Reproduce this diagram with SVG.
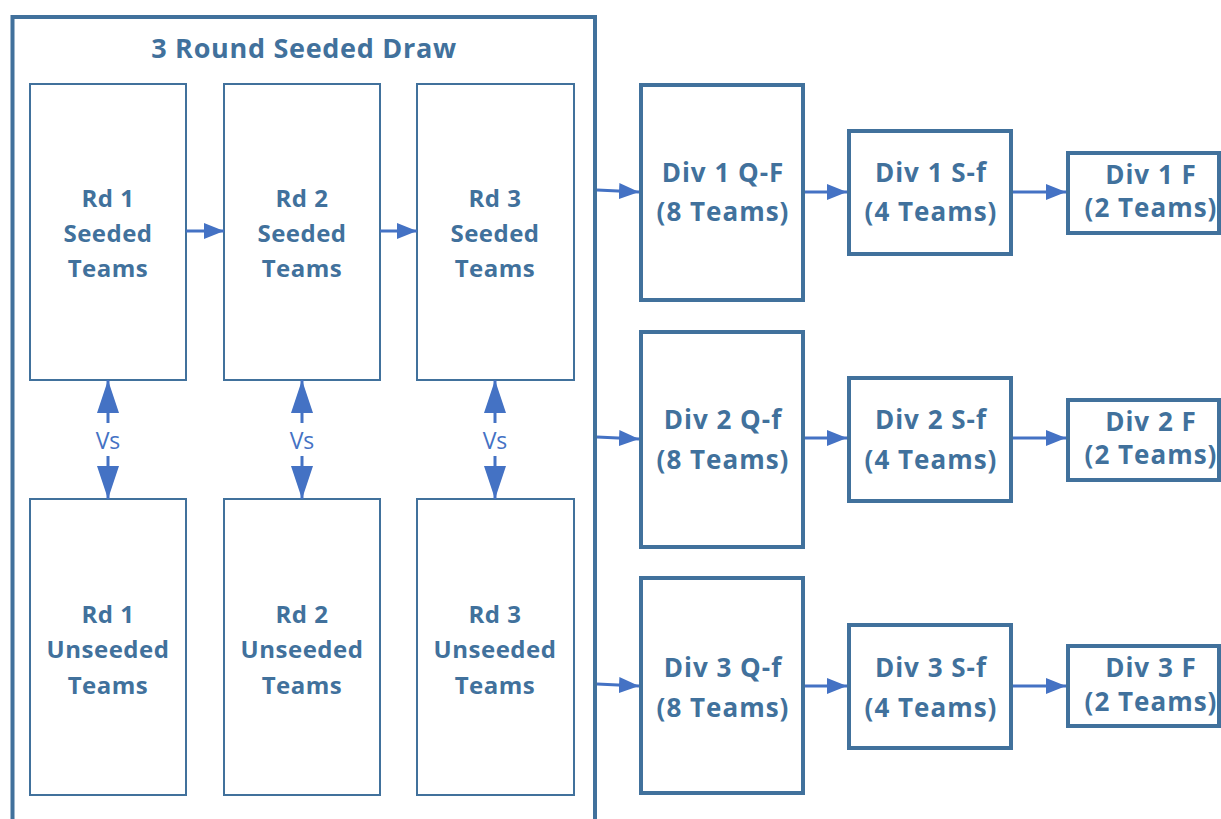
<svg xmlns="http://www.w3.org/2000/svg" width="1221" height="819" viewBox="0 0 1221 819">
<style>
.box{fill:#fff;stroke:#41719C;stroke-width:2}
.dbox{fill:#fff;stroke:#41719C;stroke-width:4}
.t{font-family:"Open Sans","Liberation Sans",sans-serif;font-weight:bold;font-size:24px;letter-spacing:0.5px;fill:#41719C;text-anchor:middle}
.d{font-size:26px;letter-spacing:1px}
.title{font-size:27px;letter-spacing:0.7px}
.vs{font-family:"Open Sans","Liberation Sans",sans-serif;font-size:23px;fill:#4472C4;text-anchor:middle}
.c{stroke:#4472C4;stroke-width:3;fill:none}
</style>
<defs>
<marker id="ah" markerUnits="userSpaceOnUse" markerWidth="22" markerHeight="16" refX="20" refY="8" orient="auto"><path d="M0,0 L20,8 L0,16 Z" fill="#4472C4"/></marker>
<marker id="av" markerUnits="userSpaceOnUse" markerWidth="34" markerHeight="24" refX="33" refY="11" orient="auto"><path d="M0,0 L33,11 L0,22 Z" fill="#4472C4"/></marker>
</defs>
<g id="draw">
<rect x="12.5" y="17" width="582.5" height="820" fill="none" stroke="#41719C" stroke-width="4"/>
<text class="t title" x="304" y="58">3 Round Seeded Draw</text>
</g>
<g id="rd1s"><rect class="box" x="30" y="84" width="156" height="296"/><text class="t" x="108" y="207">Rd 1</text><text class="t" x="108" y="242">Seeded</text><text class="t" x="108" y="277">Teams</text></g>
<g id="rd2s"><rect class="box" x="224" y="84" width="156" height="296"/><text class="t" x="302" y="207">Rd 2</text><text class="t" x="302" y="242">Seeded</text><text class="t" x="302" y="277">Teams</text></g>
<g id="rd3s"><rect class="box" x="417" y="84" width="157" height="296"/><text class="t" x="495" y="207">Rd 3</text><text class="t" x="495" y="242">Seeded</text><text class="t" x="495" y="277">Teams</text></g>
<g id="rd1u"><rect class="box" x="30" y="499" width="156" height="296"/><text class="t" x="108" y="623">Rd 1</text><text class="t" x="108" y="658">Unseeded</text><text class="t" x="108" y="694">Teams</text></g>
<g id="rd2u"><rect class="box" x="224" y="499" width="156" height="296"/><text class="t" x="302" y="623">Rd 2</text><text class="t" x="302" y="658">Unseeded</text><text class="t" x="302" y="694">Teams</text></g>
<g id="rd3u"><rect class="box" x="417" y="499" width="157" height="296"/><text class="t" x="495" y="623">Rd 3</text><text class="t" x="495" y="658">Unseeded</text><text class="t" x="495" y="694">Teams</text></g>
<g id="d1qf"><rect class="dbox" x="641" y="85" width="162" height="215"/><text class="t d" x="723" y="182">Div 1 Q-F</text><text class="t d" x="723" y="221">(8 Teams)</text></g>
<g id="d1sf"><rect class="dbox" x="849" y="131" width="162" height="123"/><text class="t d" x="931" y="182">Div 1 S-f</text><text class="t d" x="931" y="221">(4 Teams)</text></g>
<g id="d1f"><rect class="dbox" x="1068" y="153" width="151" height="80"/><text class="t d" x="1151" y="184">Div 1 F</text><text class="t d" x="1151" y="217">(2 Teams)</text></g>
<g id="d2qf"><rect class="dbox" x="641" y="332" width="162" height="215"/><text class="t d" x="723" y="429">Div 2 Q-f</text><text class="t d" x="723" y="469">(8 Teams)</text></g>
<g id="d2sf"><rect class="dbox" x="849" y="378" width="162" height="123"/><text class="t d" x="931" y="429">Div 2 S-f</text><text class="t d" x="931" y="469">(4 Teams)</text></g>
<g id="d2f"><rect class="dbox" x="1068" y="400" width="151" height="80"/><text class="t d" x="1151" y="431">Div 2 F</text><text class="t d" x="1151" y="464">(2 Teams)</text></g>
<g id="d3qf"><rect class="dbox" x="641" y="578" width="162" height="215"/><text class="t d" x="723" y="677">Div 3 Q-f</text><text class="t d" x="723" y="717">(8 Teams)</text></g>
<g id="d3sf"><rect class="dbox" x="849" y="625" width="162" height="123"/><text class="t d" x="931" y="677">Div 3 S-f</text><text class="t d" x="931" y="717">(4 Teams)</text></g>
<g id="d3f"><rect class="dbox" x="1068" y="646" width="151" height="80"/><text class="t d" x="1151" y="677">Div 3 F</text><text class="t d" x="1151" y="711">(2 Teams)</text></g>
<g id="connectors">
<line class="c" x1="186" y1="231" x2="224" y2="231" marker-end="url(#ah)"/>
<line class="c" x1="380" y1="231" x2="417" y2="231" marker-end="url(#ah)"/>
<line class="c" x1="108" y1="423" x2="108" y2="380" marker-end="url(#av)"/>
<line class="c" x1="108" y1="456" x2="108" y2="499" marker-end="url(#av)"/>
<line class="c" x1="302" y1="423" x2="302" y2="380" marker-end="url(#av)"/>
<line class="c" x1="302" y1="456" x2="302" y2="499" marker-end="url(#av)"/>
<line class="c" x1="495" y1="423" x2="495" y2="380" marker-end="url(#av)"/>
<line class="c" x1="495" y1="456" x2="495" y2="499" marker-end="url(#av)"/>
<text class="vs" x="108" y="449">Vs</text>
<text class="vs" x="302" y="449">Vs</text>
<text class="vs" x="495" y="449">Vs</text>
<line class="c" x1="597" y1="190" x2="639" y2="192" marker-end="url(#ah)"/>
<line class="c" x1="805" y1="192" x2="847" y2="192" marker-end="url(#ah)"/>
<line class="c" x1="1013" y1="192" x2="1066" y2="192" marker-end="url(#ah)"/>
<line class="c" x1="597" y1="437" x2="639" y2="439" marker-end="url(#ah)"/>
<line class="c" x1="805" y1="438" x2="847" y2="438" marker-end="url(#ah)"/>
<line class="c" x1="1013" y1="438" x2="1066" y2="438" marker-end="url(#ah)"/>
<line class="c" x1="597" y1="684" x2="639" y2="686" marker-end="url(#ah)"/>
<line class="c" x1="805" y1="686" x2="847" y2="686" marker-end="url(#ah)"/>
<line class="c" x1="1013" y1="686" x2="1066" y2="686" marker-end="url(#ah)"/>
</g>
</svg>
